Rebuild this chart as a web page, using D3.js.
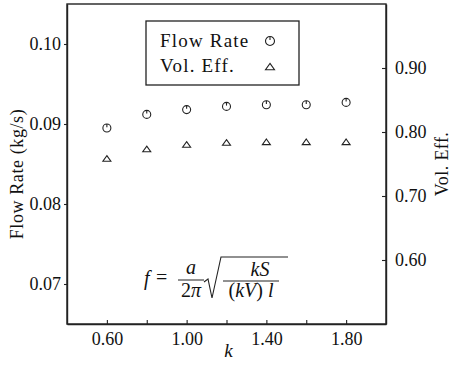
<!DOCTYPE html>
<html>
<head>
<meta charset="utf-8">
<script src="https://cdn.jsdelivr.net/npm/d3@7"></script>
<style>
  body { margin: 0; background: #fff; }
  svg text { font-family: "Liberation Serif", "Times New Roman", serif; fill: #111; }
</style>
</head>
<body>
<svg id="chart"></svg>
<script>
// Data
const kValues = [0.6, 0.8, 1.0, 1.2, 1.4, 1.6, 1.8];
const flowRate = [0.0895, 0.0912, 0.0918, 0.0922, 0.0924, 0.0924, 0.0927];
const volEff = [0.758, 0.773, 0.780, 0.783, 0.784, 0.784, 0.784];

const xTicks = [0.6, 1.0, 1.4, 1.8];
const xMinorTicks = [0.8, 1.2, 1.6];
const leftTicks = [0.07, 0.08, 0.09, 0.10];
const rightTicks = [0.6, 0.7, 0.8, 0.9];

const width = 451, height = 365;
const margin = { top: 4, right: 65, bottom: 41, left: 67 };

const svg = d3.select('#chart')
    .attr('width', width)
    .attr('height', height);

const x = d3.scaleLinear().domain([0.4, 2.0]).range([margin.left, width - margin.right]);
const yL = d3.scaleLinear().domain([0.065, 0.105]).range([height - margin.bottom, margin.top]);
const yR = d3.scaleLinear().domain([0.5, 1.0]).range([height - margin.bottom, margin.top]);

const ink = '#222';

// Frame
svg.append('rect')
    .attr('x', margin.left)
    .attr('y', margin.top)
    .attr('width', width - margin.left - margin.right)
    .attr('height', height - margin.top - margin.bottom)
    .attr('fill', 'none')
    .attr('stroke', ink)
    .attr('stroke-width', 1.4);

// Bottom axis (ticks point inward)
svg.append('g')
    .attr('transform', `translate(0,${height - margin.bottom})`)
    .call(d3.axisBottom(x).tickValues(xTicks).tickSizeInner(-4).tickSizeOuter(0)
        .tickPadding(8).tickFormat(d3.format('.2f')));
svg.append('g')
    .attr('transform', `translate(0,${height - margin.bottom})`)
    .call(d3.axisBottom(x).tickValues(xMinorTicks).tickSizeInner(-4).tickSizeOuter(0).tickFormat(''))
    .select('.domain').remove();

// Left axis
svg.append('g')
    .attr('transform', `translate(${margin.left},0)`)
    .call(d3.axisLeft(yL).tickValues(leftTicks).tickSizeInner(3).tickSizeOuter(0)
        .tickPadding(3).tickFormat(d3.format('.2f')));

// Right axis (ticks point inward)
svg.append('g')
    .attr('transform', `translate(${width - margin.right},0)`)
    .call(d3.axisRight(yR).tickValues(rightTicks).tickSizeInner(-4).tickSizeOuter(0)
        .tickPadding(9).tickFormat(d3.format('.2f')));

svg.selectAll('.domain').attr('stroke', ink).attr('stroke-width', 1.4);
svg.selectAll('.tick line').attr('stroke', ink).attr('stroke-width', 1.1);
svg.selectAll('.tick text')
    .attr('font-family', '"Liberation Serif", serif')
    .attr('font-size', 18)
    .attr('fill', '#111');

// Axis titles
svg.append('text')
    .attr('transform', `translate(23,${(margin.top + height - margin.bottom) / 2 + 10}) rotate(-90)`)
    .attr('text-anchor', 'middle')
    .attr('font-size', 18)
    .attr('letter-spacing', 0.6)
    .text('Flow Rate (kg/s)');

svg.append('text')
    .attr('transform', `translate(448,${(margin.top + height - margin.bottom) / 2}) rotate(-90)`)
    .attr('text-anchor', 'middle')
    .attr('font-size', 18)
    .attr('letter-spacing', 0.4)
    .text('Vol. Eff.');

svg.append('text')
    .attr('x', x(1.2) + 2)
    .attr('y', 357)
    .attr('text-anchor', 'middle')
    .attr('font-size', 19)
    .attr('font-style', 'italic')
    .text('k');

// Markers
function circleMark(g, r) {
    g.append('circle').attr('r', r).attr('fill', 'none').attr('stroke', ink).attr('stroke-width', 1.1);
    g.append('line').attr('x1', 0).attr('x2', 0).attr('y1', -r).attr('y2', -r * 0.2)
        .attr('stroke', ink).attr('stroke-width', 1.1);
}
function triangleMark(g, s) {
    g.append('path')
        .attr('d', `M0,${-s * 0.8}L${s},${s * 0.6}L${-s},${s * 0.6}Z`)
        .attr('fill', 'none').attr('stroke', ink).attr('stroke-width', 1.1);
}

svg.append('g').selectAll('g')
    .data(kValues.map((k, i) => ({ k, v: flowRate[i] })))
    .enter().append('g')
    .attr('transform', d => `translate(${x(d.k)},${yL(d.v)})`)
    .each(function() { circleMark(d3.select(this), 4); });

svg.append('g').selectAll('g')
    .data(kValues.map((k, i) => ({ k, v: volEff[i] })))
    .enter().append('g')
    .attr('transform', d => `translate(${x(d.k)},${yR(d.v)})`)
    .each(function() { triangleMark(d3.select(this), 4); });

// Legend
const legend = svg.append('g').attr('transform', 'translate(146,21)');
legend.append('rect')
    .attr('width', 153).attr('height', 64)
    .attr('fill', '#fff').attr('stroke', ink).attr('stroke-width', 1.3);
legend.append('text').attr('x', 14).attr('y', 26).attr('font-size', 19).attr('letter-spacing', 1.2).text('Flow Rate');
legend.append('text').attr('x', 14).attr('y', 51).attr('font-size', 19).attr('letter-spacing', 1.2).text('Vol. Eff.');
circleMark(legend.append('g').attr('transform', 'translate(124,20)'), 4.5);
triangleMark(legend.append('g').attr('transform', 'translate(124,46)'), 4.5);

// Formula  f = a/(2π) √( kS / ((kV) l) )
const fx = 144, fy = 285;
const eq = svg.append('g').attr('font-size', 20);
eq.append('text').attr('x', fx).attr('y', fy).attr('font-style', 'italic').text('f');
eq.append('text').attr('x', fx + 12).attr('y', fy - 1).text('=');
eq.append('text').attr('x', fx + 47).attr('y', fy - 11).attr('text-anchor', 'middle').attr('font-style', 'italic').text('a');
eq.append('line').attr('x1', fx + 34).attr('x2', fx + 60).attr('y1', fy - 5).attr('y2', fy - 5)
    .attr('stroke', ink).attr('stroke-width', 1);
eq.append('text').attr('x', fx + 47).attr('y', fy + 12).attr('text-anchor', 'middle')
    .html('2<tspan font-style="italic">π</tspan>');
// radical sign
eq.append('path')
    .attr('d', `M${fx + 60},${fy - 3}L${fx + 64},${fy - 6}L${fx + 68},${fy + 13}L${fx + 77},${fy - 28}L${fx + 144},${fy - 28}`)
    .attr('fill', 'none').attr('stroke', ink).attr('stroke-width', 1.1);
eq.append('text').attr('x', fx + 116).attr('y', fy - 9).attr('text-anchor', 'middle').attr('font-style', 'italic').text('kS');
eq.append('line').attr('x1', fx + 79).attr('x2', fx + 135).attr('y1', fy - 4).attr('y2', fy - 4)
    .attr('stroke', ink).attr('stroke-width', 1);
eq.append('text').attr('x', fx + 107).attr('y', fy + 12).attr('text-anchor', 'middle')
    .html('(<tspan font-style="italic">kV</tspan>) <tspan font-style="italic">l</tspan>');
</script>
</body>
</html>
